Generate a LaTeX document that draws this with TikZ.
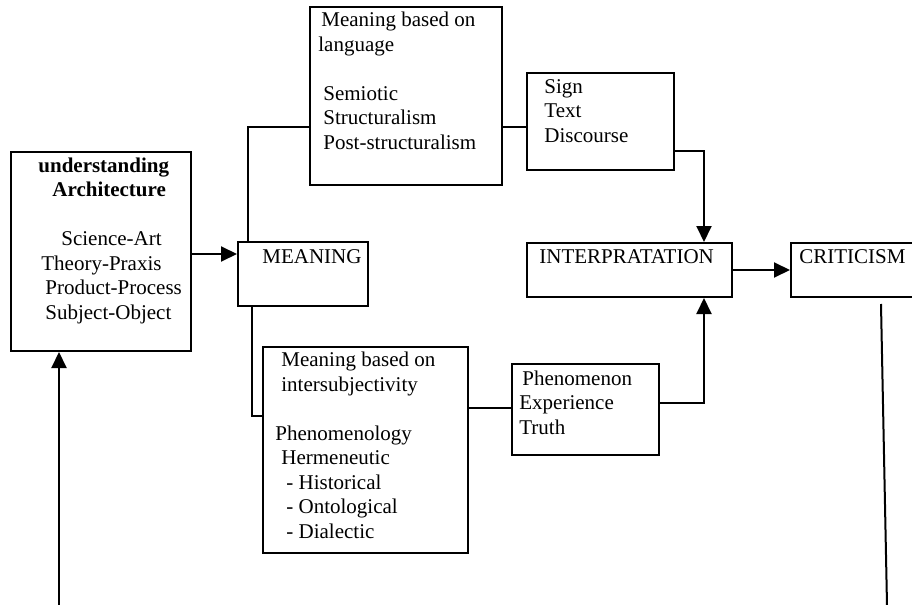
\documentclass[tikz,border=0pt]{standalone}
\usepackage{fontspec}
\setmainfont{Liberation Serif}
\usetikzlibrary{arrows.meta,fit}
\begin{document}
\begin{tikzpicture}[x=0.5pt,y=-0.5pt,
  bx/.style={draw, line width=1pt, inner sep=0pt, rectangle},
  txt/.style={anchor=base west, inner sep=0pt, align=left, font=\fontsize{10.5}{12.25}\selectfont},
  ln/.style={line width=1pt},
  arr/.style={ln, -{Triangle[length=8pt,width=7.5pt]}}]
\fill[white] (0,0) rectangle (912,605);
\useasboundingbox (0,0) rectangle (912,605);
\clip (0,0) rectangle (912,605);

% box corners
\coordinate (a1) at (11,152);  \coordinate (a2) at (191,351);
\coordinate (b1) at (310,7);   \coordinate (b2) at (502,185);
\coordinate (c1) at (527,73);  \coordinate (c2) at (674,170);
\coordinate (d1) at (238,242); \coordinate (d2) at (368,306);
\coordinate (e1) at (527,243); \coordinate (e2) at (732,297);
\coordinate (f1) at (791,243); \coordinate (f2) at (930,297);
\coordinate (g1) at (263,347); \coordinate (g2) at (468,553);
\coordinate (h1) at (512,364); \coordinate (h2) at (659,455);

\node[bx, fit=(a1)(a2)] (A) {};
\node[bx, fit=(b1)(b2)] (B) {};
\node[bx, fit=(c1)(c2)] (C) {};
\node[bx, fit=(d1)(d2)] (D) {};
\node[bx, fit=(e1)(e2)] (E) {};
\node[bx, fit=(f1)(f2)] (F) {};
\node[bx, fit=(g1)(g2)] (G) {};
\node[bx, fit=(h1)(h2)] (H) {};

% texts (anchored at the baseline of their last line)
\node[txt] (At) at (38,319) {\textbf{understanding}\\\hspace*{7pt}\textbf{Architecture}\\[12.25pt]
  \hspace*{11.5pt}Science-Art\\\hspace*{1.5pt}Theory-Praxis\\\hspace*{3.5pt}Product-Process\\\hspace*{3.5pt}Subject-Object};
\node[txt] (Bt) at (318,149) {\hspace*{1.5pt}Meaning based on\\language\\[12.25pt]
  \hspace*{2.5pt}Semiotic\\\hspace*{2.5pt}Structuralism\\\hspace*{2.5pt}Post-structuralism};
\node[txt] (Ct) at (544,142) {Sign\\Text\\Discourse};
\node[txt] (Dt) at (262,263) {MEANING};
\node[txt] (Et) at (539,263) {INTERPRATATION};
\node[txt] (Ft) at (799,263) {CRITICISM};
\node[txt] (Gt) at (275,538) {\hspace*{3pt}Meaning based on\\\hspace*{3pt}intersubjectivity\\[12.25pt]
  Phenomenology\\\hspace*{3pt}Hermeneutic\\\hspace*{5.5pt}- Historical\\\hspace*{5.5pt}- Ontological\\\hspace*{5.5pt}- Dialectic};
\node[txt] (Ht) at (519,434) {\hspace*{1.5pt}Phenomenon\\Experience\\Truth};

% junction coordinates
\coordinate (rA) at (0,254);
\coordinate (j1) at (248,127);
\coordinate (j2) at (704,151);
\coordinate (j3) at (252,416);
\coordinate (j4) at (0,408);
\coordinate (j5) at (704,403);
\coordinate (k1) at (881,304);
\coordinate (k2) at (887,605);
\coordinate (ab) at (59,605);

% connectors
\draw[arr] (A.east |- rA) -- (D.west |- rA);
\draw[ln] (D.north -| j1) -- (j1) -- (B.west |- j1);
\draw[ln] (B.east |- j1) -- (C.west |- j1);
\draw[arr] (C.east |- j2) -- (j2) -- (E.north -| j2);
\draw[ln] (D.south -| j3) -- (j3) -- (G.west |- j3);
\draw[ln] (G.east |- j4) -- (H.west |- j4);
\draw[arr] (H.east |- j5) -- (j5) -- (E.south -| j5);
\draw[arr] (E.east) -- (E.east -| F.west);
\draw[ln] (k1) -- (k2);
\draw[arr] (ab) -- (A.south -| ab);
\end{tikzpicture}
\end{document}
